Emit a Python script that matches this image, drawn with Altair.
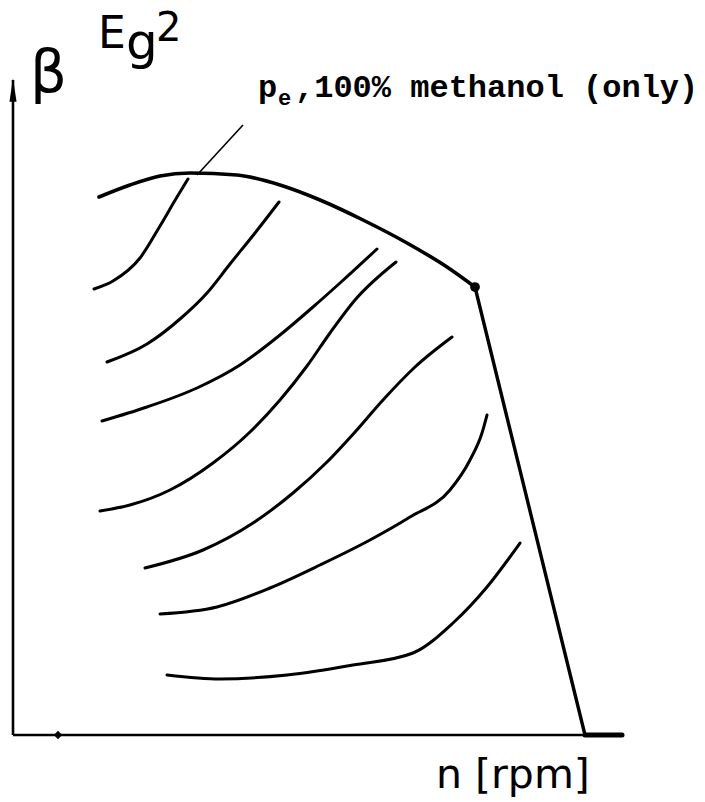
import altair as alt
import pandas as pd

# Full-load boundary: smooth upper envelope, then the straight drop to zero load
envelope_n = [86, 117, 147, 177, 224, 267, 307, 350, 394, 434, 462]
envelope_b = [538, 550, 559, 562, 560, 550, 535, 515, 492, 468, 448]
droop_n = [462, 572]
droop_b = [448, 0]

# Constant-efficiency curves inside the operating field
iso_n = [
    [81, 100, 127, 147, 164, 175],
    [94, 134, 167, 194, 217, 242, 266],
    [89, 134, 184, 227, 267, 300, 327, 364],
    [87, 117, 157, 200, 237, 267, 294, 317, 342, 383],
    [132, 190, 240, 280, 314, 342, 370, 402, 439],
    [147, 204, 257, 307, 357, 397, 437, 457, 469, 474],
    [154, 207, 274, 340, 400, 440, 474, 507],
]
iso_b = [
    [446, 454, 477, 509, 538, 556],
    [373, 391, 416, 442, 471, 502, 533],
    [314, 328, 347, 370, 400, 428, 452, 486],
    [224, 230, 245, 272, 303, 335, 369, 402, 435, 473],
    [167, 185, 212, 242, 273, 303, 335, 368, 398],
    [121, 128, 147, 170, 195, 218, 245, 275, 302, 320],
    [60, 56, 60, 70, 82, 112, 148, 192],
]

# Leader from the envelope to its label
leader_n = [184, 230]
leader_b = [560, 610]

# Axis extents and marks on the axes
beta_axis_top = 655
n_axis_end = 609
n_axis_heavy_start = 572
n_axis_tick = 45
knee_n, knee_b = 462, 448

W, H = 705, 802
xs = alt.Scale(domain=[-13, 692], nice=False, zero=False)
ys = alt.Scale(domain=[-67, 735], nice=False, zero=False)


def X(field="n"):
    return alt.X(f"{field}:Q", scale=xs, axis=None)


def Y(field="b"):
    return alt.Y(f"{field}:Q", scale=ys, axis=None)


def curve_frame(ns, bs, name):
    return pd.DataFrame({"n": ns, "b": bs, "curve": name, "i": range(len(ns))})


iso_df = pd.concat(
    [curve_frame(n, b, f"c{k}") for k, (n, b) in enumerate(zip(iso_n, iso_b))],
    ignore_index=True,
)
env_df = curve_frame(envelope_n, envelope_b, "envelope")
droop_df = curve_frame(droop_n, droop_b, "droop")
leader_df = curve_frame(leader_n, leader_b, "leader")

iso_layer = alt.Chart(iso_df).mark_line(
    color="black", strokeWidth=3, interpolate="monotone", strokeCap="round"
).encode(x=X(), y=Y(), detail="curve:N", order="i:Q")

env_layer = alt.Chart(env_df).mark_line(
    color="black", strokeWidth=3.6, interpolate="monotone", strokeCap="round"
).encode(x=X(), y=Y(), order="i:Q")

droop_layer = alt.Chart(droop_df).mark_line(
    color="black", strokeWidth=3.4, strokeCap="round"
).encode(x=X(), y=Y(), order="i:Q")

leader_layer = alt.Chart(leader_df).mark_line(
    color="black", strokeWidth=1.6
).encode(x=X(), y=Y(), order="i:Q")

knee_layer = alt.Chart(pd.DataFrame({"n": [knee_n], "b": [knee_b]})).mark_point(
    filled=True, color="black", size=95, opacity=1
).encode(x=X(), y=Y())

# Axes drawn as rules in data space
axes_df = pd.DataFrame({"n": [0], "b": [0], "top": [beta_axis_top], "end": [n_axis_end],
                        "heavy": [n_axis_heavy_start]})
beta_axis = alt.Chart(axes_df).mark_rule(color="black", strokeWidth=2.6).encode(
    x=X(), y=Y(), y2="top:Q")
n_axis = alt.Chart(axes_df).mark_rule(color="black", strokeWidth=2.6).encode(
    x=X(), x2="end:Q", y=Y())
n_axis_heavy = alt.Chart(axes_df).mark_rule(color="black", strokeWidth=5, strokeCap="round").encode(
    x=X("heavy"), x2="end:Q", y=Y())

arrow = alt.Chart(pd.DataFrame({"n": [0], "b": [beta_axis_top - 10]})).mark_point(
    shape="M0,-1L0.3,1L-0.3,1Z", filled=True, color="black", size=560, opacity=1
).encode(x=X(), y=Y())

tick = alt.Chart(pd.DataFrame({"n": [n_axis_tick], "b": [0]})).mark_point(
    shape="diamond", filled=True, color="black", size=70, opacity=1
).encode(x=X(), y=Y())


def label(text, x, y, size, font="DejaVu Sans", weight="normal"):
    return alt.Chart(pd.DataFrame({"t": [text]})).mark_text(
        x=x, y=y, fontSize=size, font=font, fontWeight=weight,
        align="left", baseline="alphabetic", color="black",
    ).encode(text="t:N")


labels = [
    label("β", 30, 92, 58),
    label("E", 98, 48, 44),
    label("g", 126, 59, 50),
    label("2", 156, 41, 40),
    label("p", 258, 97, 32, "Liberation Mono", "bold"),
    label("e", 278, 105, 22, "Liberation Mono", "bold"),
    label(",100% methanol (only)", 295, 97, 32, "Liberation Mono", "bold"),
    label("n [rpm]", 436, 788, 41),
]

chart = alt.layer(
    beta_axis, n_axis, n_axis_heavy, arrow, tick,
    iso_layer, env_layer, droop_layer, leader_layer, knee_layer,
    *labels,
).properties(
    width=W, height=H, padding=0, autosize=alt.AutoSizeParams(type="none"),
    background="white",
).configure_view(stroke=None)

chart.save("out.html", embed_options={"renderer": "svg", "actions": False})
